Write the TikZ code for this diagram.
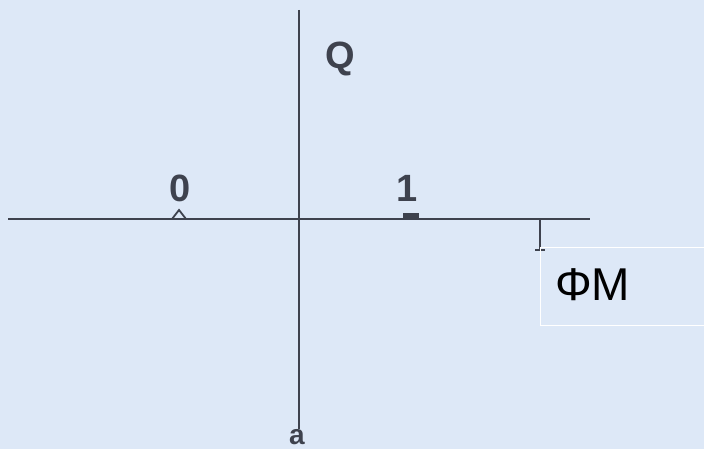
\documentclass[tikz,border=0pt]{standalone}
\usepackage{fontspec}
\setmainfont{Liberation Sans}
\definecolor{bgblue}{RGB}{221,232,247}
\definecolor{axisgray}{RGB}{62,66,78}
\begin{document}
\begin{tikzpicture}[x=1pt,y=-1pt,
        axis/.style={draw=axisgray, line width=2.6pt},
        ticklabel/.style={font=\fontsize{38}{40}\selectfont\bfseries, text=axisgray, inner sep=0pt, anchor=base},
        tickmark/.style={draw=axisgray, line width=1.8pt},
        namebox/.style={draw=white, line width=1.2pt, minimum width=170pt, minimum height=78pt,
            anchor=north west, inner sep=0pt}
    ]
        % background
        \fill[bgblue] (0,0) rectangle (704,449);
        \useasboundingbox (0,0) rectangle (704,449);

        % axes
        \coordinate (west) at (8,219);
        \coordinate (east) at (590,219);
        \coordinate (north) at (299,10);
        \coordinate (south) at (299,429);
        \draw[axis] (west) -- (east);
        \draw[axis] (north) -- (south);

        % labels
        \node[ticklabel] (qlab) at (340,69) {Q};
        \node[ticklabel, font=\fontsize{28}{30}\selectfont\bfseries] (alab) at (297,444) {a};
        \node[ticklabel] (zero) at (180,202) {0};
        \node[ticklabel] (one) at (407,202) {1};

        % tick marks
        \coordinate (zerotick) at (179,219);
        \coordinate (onetick) at (411,219);
        \coordinate (endtick) at (540,219);
        \draw[tickmark] ([xshift=-7pt]zerotick) -- ([yshift=9pt]zerotick) -- ([xshift=7pt]zerotick);
        \fill[axisgray] ([xshift=-8pt]onetick) rectangle ([xshift=8pt,yshift=6pt]onetick);
        \draw[tickmark, line width=2.6pt] (endtick) -- ([yshift=-31pt]endtick);
        \draw[tickmark] ([xshift=-5pt,yshift=-31pt]endtick) -- ([xshift=5pt,yshift=-31pt]endtick);

        % name box
        \node[namebox] (fm) at (540,247) {};
        \node[font=\fontsize{46}{50}\selectfont, anchor=west, inner sep=0pt] (fmtext) at ([xshift=15pt,yshift=2pt]fm.west) {ΦМ};
    \end{tikzpicture}
\end{document}
